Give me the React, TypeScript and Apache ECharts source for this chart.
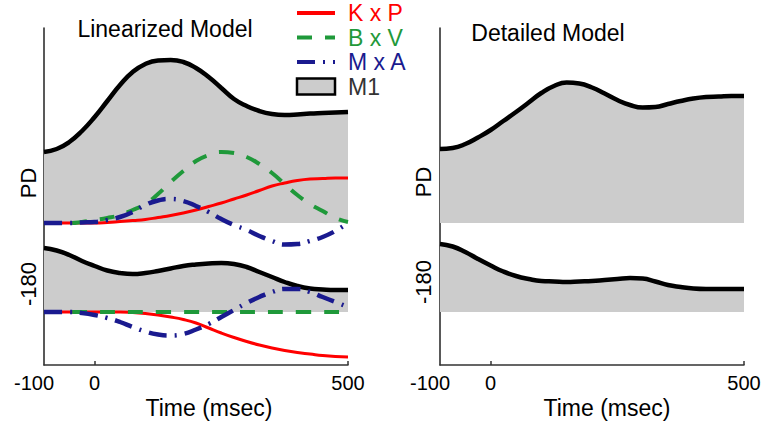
import React, { useEffect, useRef } from "react";
import * as echarts from "echarts";

// Time samples (msec)
const times = [-100, -75, -50, -25, 0, 25, 50, 75, 100, 125, 150, 175, 200, 225, 250, 275, 300, 325, 350, 375, 400, 425, 450, 475, 500];

// Linearized model, PD row (values relative to the row baseline)
const linM1PD = [35.5, 37, 40.5, 46, 53, 61, 69, 75.5, 79.5, 81.25, 81.5, 80.5, 77.5, 73, 67.5, 62, 58.5, 56, 54.5, 54, 54.25, 54.75, 55, 55.25, 55.5];
const linKPPD = [0, 0, 0, 0, 0, 0.25, 0.75, 1.25, 1.75, 2.75, 3.75, 5, 6.5, 8.25, 10, 12, 14, 16.25, 18.5, 20, 21.25, 22, 22.25, 22.5, 22.5];
const linBVPD = [0, 0, 0, 0.5, 1.5, 2.5, 4, 6.5, 9.5, 14.5, 20.5, 26, 31, 34, 35.5, 35, 33, 29.5, 25, 19.5, 14, 9.5, 6, 2.5, 0.5];
const linMAPD = [0, 0, 0, 0.25, 0.5, 1.5, 3, 5.5, 9, 11.25, 12, 11, 8.5, 5.5, 2, -1, -3.5, -6.5, -9, -10.75, -10.5, -9, -7, -4, 0];

// Linearized model, -180 row
const linM1Opp = [32, 30.75, 28.5, 25.5, 23, 20.75, 19.5, 19, 19.5, 20.5, 21.75, 23, 23.75, 24.25, 24.5, 24, 22.5, 20, 17.5, 15, 13, 11.75, 11.25, 11, 11];
const linKPOpp = [0, 0, 0, 0, 0, 0, 0, -0.25, -0.75, -1.5, -2.5, -3.75, -5.5, -8, -10.5, -12.75, -14.75, -16.5, -18, -19.25, -20.25, -21, -21.75, -22.25, -22.5];
const linBVOpp = [0, 0, 0, 0, 0, 0, 0, 0, 0, 0, 0, 0, 0, 0, 0, 0, 0, 0, 0, 0, 0, 0, 0, 0, 0];
const linMAOpp = [0, 0, 0, -0.5, -1.5, -3, -5, -7.5, -9.75, -11.25, -11.75, -11, -8.75, -6, -2.5, 1, 4.5, 7.5, 10, 11.5, 11.5, 10, 7.5, 5, 2.5];

// Detailed model
const detM1PD = [37, 37.5, 39.5, 42.75, 46.5, 51, 55.5, 60.25, 65, 68.5, 70.25, 69.75, 67.75, 64.75, 61.5, 59, 57.75, 58, 59.5, 61, 62.25, 63, 63.25, 63.5, 63.5];
const detM1Opp = [34, 32.75, 30, 26.5, 23.25, 20.25, 18, 16.5, 15.5, 15.25, 15, 15.25, 15.5, 16, 16.5, 17, 16.75, 15.25, 13.5, 12.5, 11.75, 11.5, 11.5, 11.5, 11.5];

const rowLabels = ["PD", "-180"];
const rowOffsets = [0, -44.5];
const xTickValues = [-100, 0, 500];
const panelTitles = ["Linearized Model", "Detailed Model"];
const xAxisName = "Time (msec)";
const seriesNames = ["K x P", "B x V", "M x A", "M1"];

const FONT = "'Liberation Sans', Arial, Helvetica, sans-serif";
const RED = "#ff0000";
const GREEN = "#1f993a";
const BLUE = "#1a1a8f";
const GRAY = "#cccccc";
const SMOOTH = 0.5;

function pairs(vals: number[], offset: number) {
  return times.map((t, i) => [t, vals[i] + offset]);
}

function m1Series(vals: number[], row: number, panel: number) {
  return {
    name: seriesNames[3],
    type: "line",
    xAxisIndex: panel,
    yAxisIndex: panel,
    data: pairs(vals, rowOffsets[row]),
    smooth: SMOOTH,
    symbol: "none",
    lineStyle: { color: "#000", width: 4.5 },
    itemStyle: { color: "#000" },
    areaStyle: { color: GRAY, opacity: 1, origin: rowOffsets[row] },
    z: 2,
  };
}

function compSeries(idx: number, vals: number[], row: number, color: string, width: number, dash: any, z: number) {
  return {
    name: seriesNames[idx],
    type: "line",
    xAxisIndex: 0,
    yAxisIndex: 0,
    data: pairs(vals, rowOffsets[row]),
    smooth: SMOOTH,
    symbol: "none",
    lineStyle: { color, width, type: dash, cap: "butt" },
    itemStyle: { color },
    z,
  };
}

function xAxisFor(panel: number) {
  return {
    gridIndex: panel,
    type: "value",
    min: -100,
    max: 500,
    axisLine: { show: true, onZero: false, lineStyle: { color: "#333", width: 1.5 } },
    axisTick: { show: true, inside: true, length: 4, customValues: [0, 500], lineStyle: { color: "#333", width: 1.5 } },
    axisLabel: {
      customValues: xTickValues,
      fontSize: 20,
      fontFamily: FONT,
      color: "#000",
      margin: 8,
      formatter: (v: number) => (v === -100 ? "{m|" + v + "}" : String(v)),
      rich: { m: { fontSize: 20, fontFamily: FONT, color: "#000", padding: [0, 20, 0, 0] } },
    },
    splitLine: { show: false },
  };
}

function yAxisFor(panel: number) {
  return {
    gridIndex: panel,
    type: "value",
    min: -71,
    max: 97.5,
    axisLine: { show: true, onZero: false, lineStyle: { color: "#222", width: 1.5 } },
    axisTick: { show: false },
    axisLabel: { show: false },
    splitLine: { show: false },
  };
}

function label(text: string, x: number, y: number, size: number, rotate: boolean) {
  return {
    type: "text",
    x,
    y,
    rotation: rotate ? Math.PI / 2 : 0,
    style: {
      text,
      fontSize: size,
      fontFamily: FONT,
      fill: "#000",
      textAlign: "center",
      textVerticalAlign: "middle",
    },
  };
}

export default function App() {
  const ref = useRef<HTMLDivElement>(null);
  useEffect(() => {
    if (!ref.current) return;
    const chart = echarts.init(ref.current, null, { renderer: "svg" });
    const greenDash = [15, 13];
    const blueDash = [18, 8, 2, 8];
    const hideSymbol = { opacity: 0 };
    chart.setOption({
      animation: false,
      backgroundColor: "#fff",
      grid: [
        { left: 44, right: 432, top: 28, bottom: 65, outerBoundsMode: "none" },
        { left: 440, right: 36, top: 28, bottom: 65, outerBoundsMode: "none" },
      ],
      xAxis: [xAxisFor(0), xAxisFor(1)],
      yAxis: [yAxisFor(0), yAxisFor(1)],
      legend: {
        orient: "vertical",
        left: 295,
        top: 1.5,
        padding: 0,
        itemWidth: 38,
        itemHeight: 16,
        itemGap: 1.5,
        selectedMode: false,
        lineStyle: { width: 4 },
        textStyle: { fontSize: 23, fontFamily: FONT, padding: [0, 0, 0, 8] },
        data: [
          { name: seriesNames[0], itemStyle: hideSymbol, textStyle: { color: RED } },
          { name: seriesNames[1], itemStyle: hideSymbol, textStyle: { color: GREEN } },
          { name: seriesNames[2], itemStyle: hideSymbol, textStyle: { color: BLUE } },
          {
            name: seriesNames[3],
            icon: "rect",
            itemStyle: { color: GRAY, borderColor: "#000", borderWidth: 2.5 },
            textStyle: { color: "#333" },
          },
        ],
      },
      graphic: [
        label(panelTitles[0], 165, 29, 23, false),
        label(panelTitles[1], 548, 33, 23, false),
        label(rowLabels[0], 28, 183, 22, true),
        label(rowLabels[1], 28, 284, 22, true),
        label(rowLabels[0], 423, 182, 22, true),
        label(rowLabels[1], 423, 282, 22, true),
        label(xAxisName, 209, 408, 23, false),
        label(xAxisName, 607, 408, 23, false),
      ],
      series: [
        m1Series(linM1PD, 0, 0),
        m1Series(linM1Opp, 1, 0),
        m1Series(detM1PD, 0, 1),
        m1Series(detM1Opp, 1, 1),
        compSeries(0, linKPPD, 0, RED, 3, "solid", 3),
        compSeries(0, linKPOpp, 1, RED, 3, "solid", 3),
        compSeries(1, linBVPD, 0, GREEN, 4, greenDash, 4),
        compSeries(1, linBVOpp, 1, GREEN, 4, greenDash, 4),
        compSeries(2, linMAPD, 0, BLUE, 4.5, blueDash, 5),
        compSeries(2, linMAOpp, 1, BLUE, 4.5, blueDash, 5),
      ],
    });
    return () => chart.dispose();
  }, []);
  return <div ref={ref} style={{ position: "absolute", left: 0, top: 0, width: 780, height: 430 }} />;
}
